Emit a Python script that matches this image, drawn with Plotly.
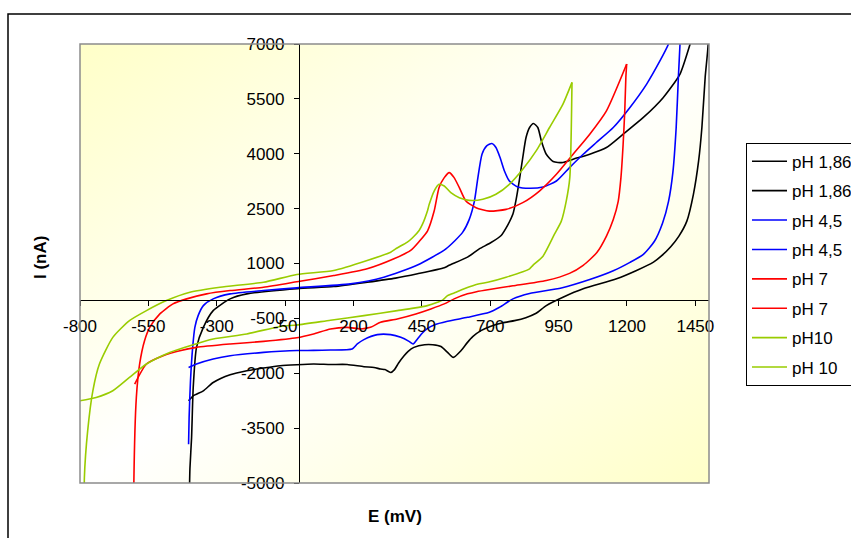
import base64
import plotly.graph_objects as go

# ---------------- data (E in mV, I in nA) ----------------
BK_UP_X = [-400, -398, -392, -386, -374, -349, -313, -251, -190, -7, 128, 250, 354, 434, 532, 550, 617, 660, 700, 740, 764, 783, 795, 807, 819, 831, 844, 858, 874, 887, 905, 930, 966, 1003, 1064, 1125, 1186, 1260, 1333, 1394, 1431, 1465, 1500]
BK_UP_Y = [-5300, -4600, -3759, -2389, -1293, -745, -288, 33, 170, 310, 370, 488, 600, 718, 882, 950, 1173, 1400, 1560, 1767, 2050, 2350, 2760, 3300, 3896, 4444, 4718, 4828, 4718, 4351, 3987, 3787, 3759, 3850, 3987, 4170, 4535, 4992, 5540, 6179, 7001, 7900, 8800]

BK_DN_X = [1500, 1497, 1486, 1474, 1462, 1443, 1419, 1390, 1360, 1325, 1297, 1235, 1162, 1040, 966, 905, 868, 830, 789, 746, 700, 666, 636, 617, 593, 565, 544, 520, 490, 460, 421, 400, 385, 365, 350, 336, 315, 299, 275, 238, 177, 116, 54, -7, -68, -129, -190, -251, -313, -349, -386, -403]
BK_DN_Y = [8800, 7000, 6088, 4718, 3803, 2891, 2159, 1750, 1460, 1200, 1036, 808, 581, 307, 77, -151, -360, -480, -562, -620, -720, -836, -1000, -1156, -1384, -1567, -1430, -1270, -1219, -1219, -1293, -1400, -1521, -1720, -1900, -1978, -1900, -1885, -1841, -1822, -1760, -1760, -1748, -1767, -1795, -1858, -1932, -2041, -2252, -2480, -2617, -2754]

BL_UP_X = [-403, -401, -396, -388, -380, -368, -349, -313, -251, -129, -7, 189, 311, 434, 538, 599, 623, 642, 654, 670, 687, 706, 721, 736, 752, 770, 801, 844, 893, 942, 990, 1040, 1088, 1150, 1211, 1272, 1321, 1352, 1380, 1400]
BL_UP_Y = [-3940, -3211, -2206, -1293, -745, -425, -151, 33, 170, 260, 334, 444, 625, 960, 1400, 1850, 2200, 2700, 3300, 3987, 4214, 4280, 4170, 3896, 3529, 3255, 3091, 3055, 3091, 3255, 3622, 3987, 4307, 4718, 5266, 5905, 6543, 7001, 7600, 8100]

BL_DN_X = [1400, 1394, 1388, 1380, 1368, 1352, 1330, 1300, 1260, 1211, 1150, 1064, 960, 844, 783, 734, 697, 617, 544, 495, 470, 452, 434, 418, 403, 373, 336, 287, 238, 214, 195, 116, 54, -7, -68, -129, -251, -313, -374, -403]
BL_DN_Y = [8100, 7000, 6088, 4718, 3500, 2700, 2100, 1600, 1250, 1030, 800, 560, 330, 180, 33, -197, -334, -471, -580, -680, -780, -900, -1063, -1200, -1129, -1019, -945, -945, -1080, -1200, -1338, -1366, -1375, -1380, -1400, -1430, -1521, -1612, -1748, -1841]

RD_UP_X = [-603, -603, -594, -582, -564, -545, -508, -460, -410, -337, -251, -129, -7, 128, 250, 348, 409, 440, 471, 495, 513, 532, 550, 568, 587, 611, 648, 697, 758, 819, 880, 942, 1003, 1064, 1125, 1199]
RD_UP_Y = [-5300, -4946, -2663, -1748, -1110, -745, -378, -104, 33, 170, 260, 351, 500, 671, 855, 1129, 1356, 1600, 1895, 2433, 3080, 3348, 3485, 3348, 3074, 2707, 2526, 2433, 2480, 2663, 2981, 3439, 3987, 4535, 5173, 6453]

RD_DN_X = [1199, 1196, 1192, 1186, 1178, 1168, 1150, 1125, 1090, 1040, 990, 905, 783, 697, 650, 617, 568, 532, 483, 428, 360, 299, 262, 226, 177, 116, 54, -7, -129, -251, -374, -435, -496, -557, -600]
RD_DN_Y = [6453, 6088, 5173, 4261, 3348, 2700, 2200, 1750, 1300, 950, 730, 534, 390, 290, 230, 170, 33, -104, -241, -378, -515, -608, -745, -789, -745, -789, -926, -1030, -1128, -1201, -1293, -1384, -1521, -1748, -2296]

GR_UP_X = [-784, -784, -772, -753, -729, -680, -619, -557, -484, -398, -288, -129, -7, 128, 250, 336, 354, 397, 416, 440, 452, 471, 477, 495, 513, 532, 556, 587, 623, 673, 721, 770, 819, 868, 917, 966, 999]
GR_UP_Y = [-5300, -4855, -3576, -2480, -1748, -1019, -562, -288, -14, 214, 351, 488, 700, 808, 1082, 1310, 1400, 1584, 1704, 1904, 2069, 2452, 2617, 2981, 3165, 3118, 2937, 2800, 2726, 2754, 2891, 3165, 3576, 4077, 4718, 5357, 5951]

GR_DN_X = [999, 991, 978, 960, 935, 893, 856, 844, 758, 691, 660, 605, 575, 544, 526, 507, 470, 420, 360, 238, 116, -7, -68, -190, -313, -398, -472, -557, -619, -680, -741, -802]
GR_DN_Y = [5951, 3348, 2707, 2159, 1800, 1200, 950, 855, 625, 488, 444, 307, 214, 123, 0, -60, -151, -220, -288, -425, -550, -680, -720, -926, -1063, -1247, -1430, -1748, -2115, -2480, -2663, -2754]

SERIES_NAMES = ["pH 1,86", "pH 1,86", "pH 4,5", "pH 4,5", "pH 7", "pH 7", "pH10", "pH 10"]
SERIES_COLORS = ["#000000", "#000000", "#0000FF", "#0000FF", "#FF0000", "#FF0000", "#99CC00", "#99CC00"]
SERIES_XY = [(BK_UP_X, BK_UP_Y), (BK_DN_X, BK_DN_Y), (BL_UP_X, BL_UP_Y), (BL_DN_X, BL_DN_Y),
             (RD_UP_X, RD_UP_Y), (RD_DN_X, RD_DN_Y), (GR_UP_X, GR_UP_Y), (GR_DN_X, GR_DN_Y)]

X_RANGE = [-800, 1500]
Y_RANGE = [-5000, 7000]
X_TICKS = [-800, -550, -300, -50, 200, 450, 700, 950, 1200, 1450]
Y_TICKS = [-5000, -3500, -2000, -500, 1000, 2500, 4000, 5500, 7000]
X_TICK_LABELS = [str(v) for v in X_TICKS]
Y_TICK_LABELS = [str(v) for v in Y_TICKS]

FONT = "Arial, 'Liberation Sans', sans-serif"

# ---------------- figure ----------------
W, H = 851, 538
ML, MR, MT, MB = 80, 142, 44, 55
PW, PH = W - ML - MR, H - MT - MB

def px_x(p):  # pixel -> paper x
    return (p - ML) / PW

def px_y(p):  # pixel -> paper y
    return (H - MB - p) / PH

fig = go.Figure()
for i, ((xs, ys), name, col) in enumerate(zip(SERIES_XY, SERIES_NAMES, SERIES_COLORS)):
    fig.add_trace(go.Scatter(x=xs, y=ys, mode="lines", name=name, legendgroup=f"g{i}",
                             line=dict(color=col, width=1.6, shape="spline", smoothing=0.6)))

svg = ('<svg xmlns="http://www.w3.org/2000/svg" width="100" height="100" viewBox="0 0 100 100" '
       'preserveAspectRatio="none"><defs><linearGradient id="g" x1="0" y1="0" x2="1" y2="1">'
       '<stop offset="0" stop-color="#FFFFC8"/><stop offset="0.5" stop-color="#FFFFFF"/>'
       '<stop offset="1" stop-color="#FFFFC8"/></linearGradient></defs>'
       '<rect width="100" height="100" fill="url(#g)"/></svg>')
src = "data:image/svg+xml;base64," + base64.b64encode(svg.encode()).decode()

ypos = (0 - Y_RANGE[0]) / (Y_RANGE[1] - Y_RANGE[0])
xpos = (0 - X_RANGE[0]) / (X_RANGE[1] - X_RANGE[0])

axis_common = dict(showline=True, linecolor="black", linewidth=1, ticks="outside", ticklen=5,
                   tickcolor="black", showgrid=False, zeroline=False,
                   tickfont=dict(family=FONT, size=17, color="black"))

fig.update_layout(
    width=W, height=H,
    margin=dict(l=ML, r=MR, t=MT, b=MB, autoexpand=False),
    paper_bgcolor="white", plot_bgcolor="rgba(0,0,0,0)",
    font=dict(family=FONT, size=17, color="black"),
    xaxis=dict(range=X_RANGE, tickvals=X_TICKS, ticktext=X_TICK_LABELS, anchor="free",
               position=ypos, ticklabelstandoff=6, **axis_common),
    yaxis=dict(range=Y_RANGE, tickvals=Y_TICKS, ticktext=Y_TICK_LABELS, anchor="free",
               position=xpos, ticklabelstandoff=6, **axis_common),
    images=[dict(source=src, xref="paper", yref="paper", x=0, y=1, sizex=1, sizey=1,
                 sizing="stretch", xanchor="left", yanchor="top", layer="below")],
    shapes=[
        dict(type="rect", xref="paper", yref="paper", x0=0, x1=1, y0=0, y1=1,
             line=dict(color="#8C8C8C", width=1.5), layer="above"),
        dict(type="rect", xref="paper", yref="paper", x0=px_x(8), x1=px_x(900), y0=px_y(600), y1=px_y(14),
             line=dict(color="black", width=1.5), layer="below"),
    ],
    annotations=[
        dict(text="<b>I (nA)</b>", xref="paper", yref="paper", x=px_x(40), y=px_y(258),
             xanchor="center", yanchor="middle",
             textangle=-90, showarrow=False, font=dict(family=FONT, size=17, color="black")),
        dict(text="<b>E (mV)</b>", xref="paper", yref="paper", x=px_x(395), y=px_y(516),
             xanchor="center", yanchor="middle",
             showarrow=False, font=dict(family=FONT, size=17, color="black")),
    ],
    legend=dict(x=px_x(746), y=px_y(142.7), xanchor="left", yanchor="top",
                bordercolor="black", borderwidth=1, bgcolor="white",
                font=dict(family=FONT, size=17, color="black"),
                traceorder="grouped", tracegroupgap=4.3, itemwidth=35),
    showlegend=True,
)

fig.write_html("out.html")
